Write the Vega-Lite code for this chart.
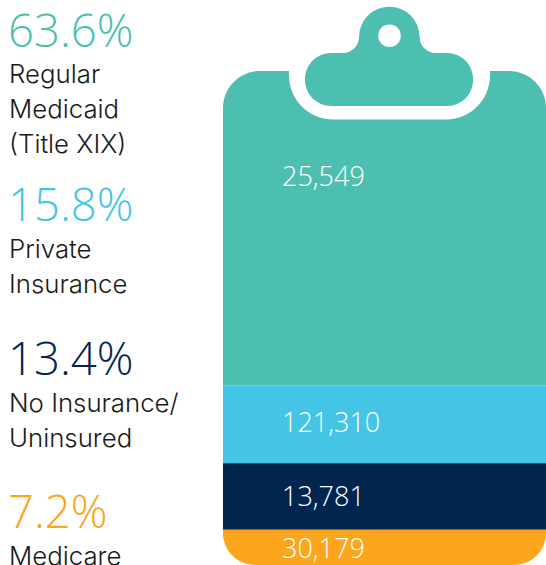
{
  "$schema": "https://vega.github.io/schema/vega-lite/v6.json",
  "width": 546,
  "height": 565,
  "padding": 0,
  "autosize": {"type": "none"},
  "background": "white",
  "view": {"stroke": null},
  "datasets": {
    "payers": [
      {"payer": "Regular Medicaid (Title XIX)", "share": 63.6, "pct": "63.6%", "count": 25549, "order": 1, "pctLevel": 104.9, "countLevel": 76.75},
      {"payer": "Private Insurance", "share": 15.8, "pct": "15.8%", "count": 121310, "order": 2, "pctLevel": 69.7, "countLevel": 26.95},
      {"payer": "No Insurance/Uninsured", "share": 13.4, "pct": "13.4%", "count": 13781, "order": 3, "pctLevel": 38.5, "countLevel": 11.95},
      {"payer": "Medicare", "share": 7.2, "pct": "7.2%", "count": 30179, "order": 4, "pctLevel": 7.5, "countLevel": 1.5}
    ],
    "lines": [
      {"line": "Regular", "level": 97.5},
      {"line": "Medicaid", "level": 90.4},
      {"line": "(Title XIX)", "level": 83.5},
      {"line": "Private", "level": 62.1},
      {"line": "Insurance", "level": 55.1},
      {"line": "No Insurance/", "level": 31.0},
      {"line": "Uninsured", "level": 23.9},
      {"line": "Medicare", "level": 0.0}
    ],
    "clipRects": [
      {"part": "notch", "a": 289, "b": 490, "lo": 90.18, "hi": 108.1},
      {"part": "plate", "a": 305, "b": 473, "lo": 92.91, "hi": 103.64},
      {"part": "neck", "a": 343, "b": 435.6, "lo": 103.5, "hi": 106.88}
    ],
    "clipDots": [
      {"part": "fillet", "a": 343, "lo": 106.88},
      {"part": "fillet", "a": 435.6, "lo": 106.88},
      {"part": "head", "a": 389.3, "lo": 106.88},
      {"part": "hole", "a": 389.5, "lo": 107.14}
    ]
  },
  "layer": [
    {
      "data": {"name": "payers"},
      "transform": [
        {"stack": "share", "sort": [{"field": "order", "order": "descending"}], "as": ["s0", "s1"]},
        {"filter": "datum.order === 4"},
        {"calculate": "datum.s1 + 6.5", "as": "backing"}
      ],
      "mark": {"type": "rect", "cornerRadiusBottomLeft": 32, "cornerRadiusBottomRight": 32},
      "encoding": {
        "x": {"value": 223},
        "x2": {"value": 546},
        "y": {"field": "s0", "type": "quantitative", "scale": {"domain": [0, 114.372], "nice": false, "zero": false}, "axis": null},
        "y2": {"field": "backing"},
        "color": {"field": "payer", "type": "nominal", "legend": null, "scale": {"domain": ["Regular Medicaid (Title XIX)", "Private Insurance", "No Insurance/Uninsured", "Medicare"], "range": ["#4DBFB0", "#44C5E5", "#002650", "#FBA61C"]}}
      }
    },
    {
      "data": {"name": "payers"},
      "transform": [
        {"stack": "share", "sort": [{"field": "order", "order": "descending"}], "as": ["s0", "s1"]},
        {"filter": "datum.order === 1"}
      ],
      "mark": {"type": "rect", "cornerRadiusTopLeft": 37, "cornerRadiusTopRight": 37},
      "encoding": {
        "x": {"value": 223},
        "x2": {"value": 546},
        "y": {"field": "s0", "type": "quantitative", "axis": null},
        "y2": {"field": "s1"},
        "color": {"field": "payer", "type": "nominal", "legend": null}
      }
    },
    {
      "data": {"name": "payers"},
      "transform": [
        {"stack": "share", "sort": [{"field": "order", "order": "descending"}], "as": ["s0", "s1"]},
        {"filter": "datum.order === 2 || datum.order === 3"}
      ],
      "mark": {"type": "rect"},
      "encoding": {
        "x": {"value": 223},
        "x2": {"value": 546},
        "y": {"field": "s0", "type": "quantitative", "axis": null},
        "y2": {"field": "s1"},
        "color": {"field": "payer", "type": "nominal", "legend": null}
      }
    },
    {
      "data": {"name": "clipRects"},
      "transform": [{"filter": "datum.part === 'notch'"}],
      "mark": {"type": "rect", "fill": "white", "cornerRadiusBottomLeft": 44, "cornerRadiusBottomRight": 44},
      "encoding": {
        "x": {"field": "a", "type": "quantitative", "scale": {"domain": [0, 546], "nice": false, "zero": false}, "axis": null},
        "x2": {"field": "b"},
        "y": {"field": "lo", "type": "quantitative", "axis": null},
        "y2": {"field": "hi"}
      }
    },
    {
      "data": {"name": "clipRects"},
      "transform": [{"filter": "datum.part === 'plate'"}],
      "mark": {"type": "rect", "fill": "#4DBFB0", "cornerRadius": 26},
      "encoding": {
        "x": {"field": "a", "type": "quantitative", "axis": null},
        "x2": {"field": "b"},
        "y": {"field": "lo", "type": "quantitative", "axis": null},
        "y2": {"field": "hi"}
      }
    },
    {
      "data": {"name": "clipRects"},
      "transform": [{"filter": "datum.part === 'neck'"}],
      "mark": {"type": "rect", "fill": "#4DBFB0"},
      "encoding": {
        "x": {"field": "a", "type": "quantitative", "axis": null},
        "x2": {"field": "b"},
        "y": {"field": "lo", "type": "quantitative", "axis": null},
        "y2": {"field": "hi"}
      }
    },
    {
      "data": {"name": "clipDots"},
      "transform": [{"filter": "datum.part === 'fillet'"}],
      "mark": {"type": "point", "shape": "circle", "filled": true, "fill": "white", "opacity": 1, "size": 1024},
      "encoding": {
        "x": {"field": "a", "type": "quantitative", "axis": null},
        "y": {"field": "lo", "type": "quantitative", "axis": null}
      }
    },
    {
      "data": {"name": "clipDots"},
      "transform": [{"filter": "datum.part === 'head'"}],
      "mark": {"type": "point", "shape": "circle", "filled": true, "fill": "#4DBFB0", "opacity": 1, "size": 3672},
      "encoding": {
        "x": {"field": "a", "type": "quantitative", "axis": null},
        "y": {"field": "lo", "type": "quantitative", "axis": null}
      }
    },
    {
      "data": {"name": "clipDots"},
      "transform": [{"filter": "datum.part === 'hole'"}],
      "mark": {"type": "point", "shape": "circle", "filled": true, "fill": "white", "opacity": 1, "size": 511},
      "encoding": {
        "x": {"field": "a", "type": "quantitative", "axis": null},
        "y": {"field": "lo", "type": "quantitative", "axis": null}
      }
    },
    {
      "data": {"name": "payers"},
      "mark": {"type": "text", "align": "left", "baseline": "alphabetic", "font": "Open Sans", "fontWeight": 300, "fontSize": 27, "fill": "white"},
      "encoding": {
        "x": {"value": 282},
        "y": {"field": "countLevel", "type": "quantitative", "axis": null},
        "text": {"field": "count", "type": "quantitative", "format": ",d"}
      }
    },
    {
      "data": {"name": "payers"},
      "mark": {"type": "text", "align": "left", "baseline": "alphabetic", "font": "Open Sans", "fontWeight": 300, "fontSize": 45.5},
      "encoding": {
        "x": {"value": 8},
        "y": {"field": "pctLevel", "type": "quantitative", "axis": null},
        "text": {"field": "pct", "type": "nominal"},
        "color": {"field": "payer", "type": "nominal", "legend": null}
      }
    },
    {
      "data": {"name": "lines"},
      "mark": {"type": "text", "align": "left", "baseline": "alphabetic", "font": "Inter", "fontWeight": 300, "fontSize": 25.8, "fill": "#1a1a1a"},
      "encoding": {
        "x": {"value": 9},
        "y": {"field": "level", "type": "quantitative", "axis": null},
        "text": {"field": "line", "type": "nominal"}
      }
    }
  ]
}
